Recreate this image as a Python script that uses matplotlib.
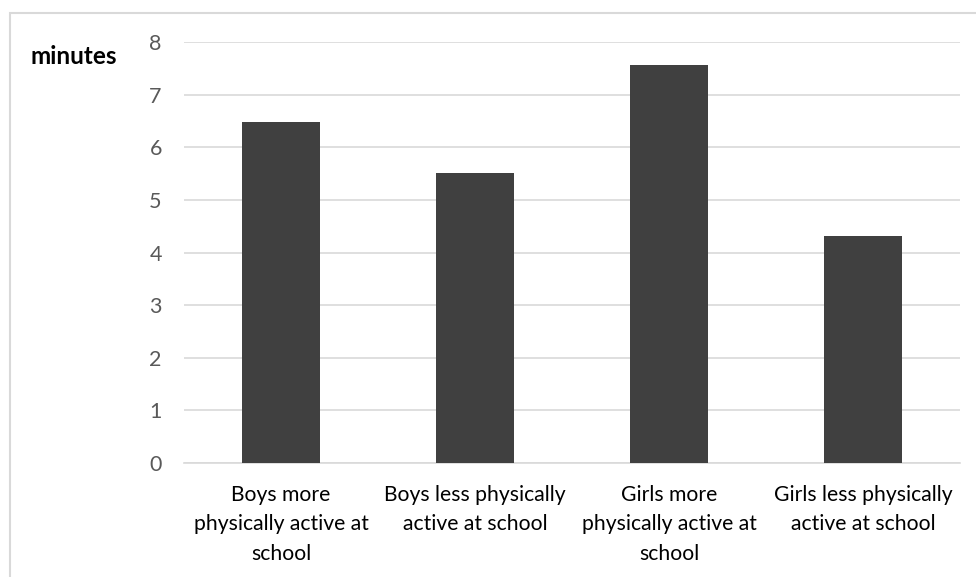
import matplotlib
matplotlib.use("Agg")
import matplotlib.pyplot as plt
from matplotlib.patches import Rectangle

categories = ["Boys more\nphysically active at\nschool",
              "Boys less physically\nactive at school",
              "Girls more\nphysically active at\nschool",
              "Girls less physically\nactive at school"]
values = [6.48, 5.52, 7.57, 4.32]
yticks = [0, 1, 2, 3, 4, 5, 6, 7, 8]

plt.rcParams['font.family'] = ['Lato', 'DejaVu Sans']

fig = plt.figure(figsize=(9.76, 5.77), dpi=100)
fig.patches.append(Rectangle((10/976, -0.1), 1.2, (577-13)/577 + 0.1,
                             transform=fig.transFigure, fill=False,
                             edgecolor='#d9d9d9', linewidth=1.5))
ax = fig.add_axes([184/976, (577-463)/577, (960-184)/976, (463-42.3)/577])
x = range(len(categories))
ax.bar(x, values, width=0.4, color='#404040', zorder=3)
ax.set_xlim(-0.5, len(categories) - 0.5)
ax.set_ylim(0, 8)
ax.set_yticks(yticks)
ax.set_yticklabels([str(t) for t in yticks], color='#595959', fontsize=15.5)
ax.set_xticks(list(x))
ax.set_xticklabels(categories, fontsize=15.2, color='#000000', linespacing=1.6)
ax.tick_params(axis='y', length=0, pad=16)
ax.tick_params(axis='x', length=0, pad=15.5)
for s in ['top', 'right', 'left']:
    ax.spines[s].set_visible(False)
ax.spines['bottom'].set_color('#d9d9d9')
ax.spines['bottom'].set_linewidth(1.2)
ax.grid(axis='y', color='#d9d9d9', linewidth=1.2, zorder=0)
ax.set_axisbelow(True)
fig.text(30/976, (577-56)/577, 'minutes', fontsize=17.5, fontweight='bold',
         va='center', ha='left', color='#000000')
fig.savefig('out.png', dpi=100)
